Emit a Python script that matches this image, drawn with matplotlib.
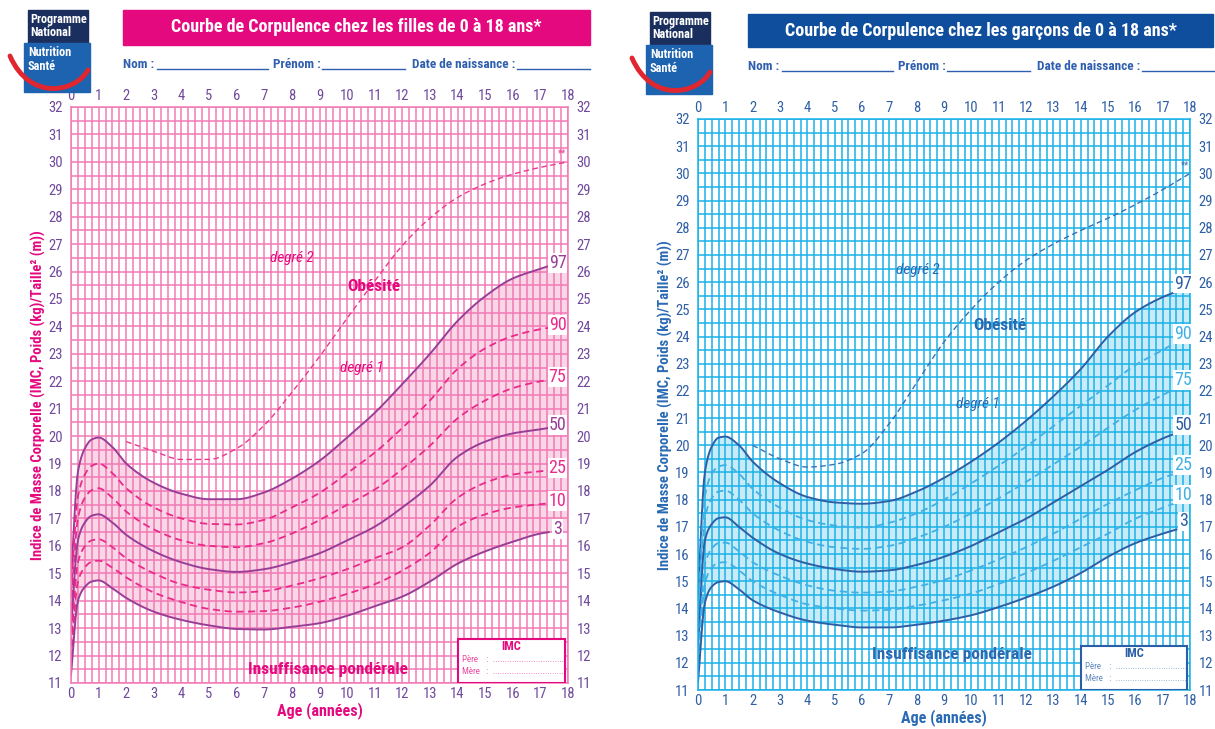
import numpy as np
import matplotlib
matplotlib.use("Agg")
import matplotlib.pyplot as plt
from matplotlib.patches import Rectangle, PathPatch
from matplotlib.path import Path
from matplotlib import font_manager as fm

# ---------------- data ----------------
pct_labels = ["97", "90", "75", "50", "25", "10", "3"]

girls_age = [0, 0.25, 0.5, 0.75, 1, 1.5, 2, 3, 4, 5, 6, 7, 8, 9, 10, 11, 12, 13, 14, 15, 16, 17, 17.3]
girls_p97 = [14.8, 18.7, 19.55, 19.88, 19.95, 19.6, 19.0, 18.3, 17.9, 17.7, 17.7, 17.95, 18.45, 19.1, 19.95, 20.85, 21.9, 23.0, 24.2, 25.1, 25.75, 26.1, 26.2]
girls_p90 = [14.3, 17.8, 18.6, 18.92, 19.0, 18.65, 18.1, 17.4, 17.0, 16.8, 16.78, 16.95, 17.4, 17.93, 18.65, 19.4, 20.3, 21.3, 22.45, 23.2, 23.65, 23.9, 23.95]
girls_p75 = [13.7, 17.0, 17.75, 18.03, 18.1, 17.75, 17.25, 16.6, 16.2, 16.0, 15.95, 16.1, 16.45, 16.94, 17.5, 18.05, 18.8, 19.65, 20.65, 21.3, 21.75, 22.0, 22.05]
girls_p50 = [13.0, 16.2, 16.85, 17.1, 17.15, 16.85, 16.4, 15.8, 15.4, 15.15, 15.05, 15.15, 15.4, 15.73, 16.2, 16.7, 17.4, 18.2, 19.25, 19.8, 20.1, 20.25, 20.3]
girls_p25 = [12.4, 15.4, 15.98, 16.2, 16.24, 15.95, 15.55, 15.0, 14.6, 14.4, 14.3, 14.35, 14.55, 14.82, 15.15, 15.55, 15.95, 16.75, 17.75, 18.3, 18.6, 18.72, 18.75]
girls_p10 = [11.9, 14.7, 15.22, 15.42, 15.46, 15.2, 14.85, 14.3, 13.95, 13.7, 13.6, 13.62, 13.75, 13.96, 14.25, 14.6, 15.1, 15.75, 16.7, 17.15, 17.4, 17.52, 17.55]
girls_p3 = [11.3, 14.0, 14.5, 14.7, 14.74, 14.45, 14.1, 13.6, 13.3, 13.1, 12.97, 12.95, 13.05, 13.18, 13.45, 13.8, 14.15, 14.7, 15.35, 15.8, 16.15, 16.45, 16.5]

boys_age = [0, 0.25, 0.5, 0.75, 1, 1.5, 2, 3, 4, 5, 6, 7, 8, 9, 10, 11, 12, 13, 14, 15, 16, 17, 17.5]
boys_p97 = [14.5, 19.0, 19.95, 20.28, 20.32, 20.0, 19.4, 18.6, 18.1, 17.9, 17.85, 17.95, 18.3, 18.8, 19.4, 20.1, 20.9, 21.8, 22.8, 24.0, 24.9, 25.45, 25.65]
boys_p90 = [13.8, 18.1, 18.95, 19.22, 19.27, 18.95, 18.4, 17.7, 17.25, 17.05, 16.97, 17.15, 17.5, 18.0, 18.6, 19.25, 19.95, 20.7, 21.45, 22.2, 22.95, 23.5, 23.8]
boys_p75 = [13.2, 17.3, 18.05, 18.3, 18.33, 18.0, 17.5, 16.85, 16.45, 16.25, 16.19, 16.3, 16.6, 17.0, 17.5, 18.05, 18.65, 19.3, 19.95, 20.65, 21.3, 21.85, 22.1]
boys_p50 = [12.6, 16.5, 17.1, 17.32, 17.35, 17.0, 16.6, 16.0, 15.65, 15.45, 15.35, 15.4, 15.6, 15.9, 16.3, 16.8, 17.3, 17.9, 18.5, 19.1, 19.75, 20.25, 20.45]
boys_p25 = [12.0, 15.6, 16.2, 16.4, 16.42, 16.1, 15.7, 15.2, 14.85, 14.65, 14.58, 14.62, 14.8, 15.05, 15.4, 15.8, 16.25, 16.75, 17.3, 17.85, 18.35, 18.8, 18.97]
boys_p10 = [11.6, 14.9, 15.5, 15.68, 15.7, 15.4, 15.0, 14.5, 14.15, 14.0, 13.92, 13.95, 14.1, 14.3, 14.55, 14.9, 15.3, 15.75, 16.25, 16.75, 17.3, 17.7, 17.89]
boys_p3 = [11.3, 14.2, 14.8, 14.97, 15.0, 14.7, 14.3, 13.85, 13.55, 13.4, 13.3, 13.3, 13.4, 13.55, 13.75, 14.05, 14.4, 14.8, 15.3, 15.9, 16.4, 16.75, 16.9]

deg2_age = [2, 3, 4, 5, 6, 7, 8, 9, 10, 11, 12, 13, 14, 15, 16, 17, 18]
girls_deg2 = [19.8, 19.45, 19.15, 19.15, 19.55, 20.4, 21.6, 22.9, 24.3, 25.65, 26.95, 27.95, 28.7, 29.2, 29.55, 29.8, 30.0]
boys_deg2 = [20.0, 19.5, 19.2, 19.3, 19.7, 20.8, 22.3, 23.8, 25.0, 26.0, 26.8, 27.4, 27.9, 28.35, 28.85, 29.4, 30.0]

x_ticks = list(range(0, 19))
y_ticks = list(range(11, 33))

# pick a condensed sans-serif if one is installed
_avail = {f.name for f in fm.fontManager.ttflist}
_pref = ["Roboto Condensed", "Liberation Sans Narrow", "Fira Sans Condensed", "Asap Condensed",
         "PT Sans Narrow", "Archivo Narrow", "IBM Plex Sans Condensed", "Encode Sans Condensed",
         "Roboto", "DejaVu Sans"]
COND = next((n for n in _pref if n in _avail), "DejaVu Sans")
plt.rcParams["font.family"] = [COND, "DejaVu Sans"]

W, H = 1215, 729
fig = plt.figure(figsize=(W / 100, H / 100), dpi=100)


def fx(x):
    return x / W


def fy(y):
    return 1 - y / H


def pchip(x, y, xs):
    x = np.asarray(x, float)
    y = np.asarray(y, float)
    h = np.diff(x)
    d = np.diff(y) / h
    n = len(x)
    m = np.zeros(n)
    m[0], m[-1] = d[0], d[-1]
    for k in range(1, n - 1):
        if d[k - 1] * d[k] <= 0:
            m[k] = 0
        else:
            w1 = 2 * h[k] + h[k - 1]
            w2 = h[k] + 2 * h[k - 1]
            m[k] = (w1 + w2) / (w1 / d[k - 1] + w2 / d[k])
    idx = np.clip(np.searchsorted(x, xs) - 1, 0, n - 2)
    t = (xs - x[idx]) / h[idx]
    h00 = 2 * t**3 - 3 * t**2 + 1
    h10 = t**3 - 2 * t**2 + t
    h01 = -2 * t**3 + 3 * t**2
    h11 = t**3 - t**2
    return h00 * y[idx] + h10 * h[idx] * m[idx] + h01 * y[idx + 1] + h11 * h[idx] * m[idx + 1]


def smooth(x, y):
    xs = np.linspace(x[0], x[-1], 400)
    return xs, pchip(x, y, xs)


def draw_logo(x0, y0):
    fig.patches.append(Rectangle((fx(x0 + 4), fy(y0 + 33)), 60 / W, 33 / H, transform=fig.transFigure,
                                 color="#1b2f5f", zorder=1))
    fig.patches.append(Rectangle((fx(x0), fy(y0 + 82)), 66 / W, 49 / H, transform=fig.transFigure,
                                 color="#1d63b0", zorder=1))
    for txt, dx, dy in [("Programme", 6, 10), ("National", 6, 22), ("Nutrition", 4, 43), ("Santé", 4, 56)]:
        fig.text(fx(x0 + dx), fy(y0 + dy), txt, color="white", fontsize=8.8, fontweight="bold",
                 va="center", ha="left", zorder=3)
    verts = [(fx(x0 - 14), fy(y0 + 46)), (fx(x0 + 6), fy(y0 + 92)), (fx(x0 + 52), fy(y0 + 82)),
             (fx(x0 + 64), fy(y0 + 60))]
    path = Path(verts, [Path.MOVETO, Path.CURVE4, Path.CURVE4, Path.CURVE4])
    fig.patches.append(PathPatch(path, transform=fig.transFigure, fill=False, edgecolor="#e0262e",
                                 lw=3.5, zorder=2, capstyle="round"))


def draw_header(box, title, box_color, y_nom, x_start, line_color):
    x1, y1, x2, y2 = box
    fig.patches.append(Rectangle((fx(x1), fy(y2)), (x2 - x1) / W, (y2 - y1) / H,
                                 transform=fig.transFigure, color=box_color, zorder=1))
    fig.text(fx((x1 + x2) / 2), fy((y1 + y2) / 2), title, color="white", fontsize=13,
             fontweight="bold", ha="center", va="center", zorder=3)
    parts = [("Nom :", 0, 34, 145), ("Prénom :", 150, 199, 282), ("Date de naissance :", 289, 394, 467)]
    for txt, tx, l1, l2 in parts:
        fig.text(fx(x_start + tx), fy(y_nom), txt, color=line_color, fontsize=9.5, fontweight="bold",
                 ha="left", va="center")
        fig.lines.append(plt.Line2D([fx(x_start + l1), fx(x_start + l2)], [fy(y_nom + 4), fy(y_nom + 4)],
                                    transform=fig.transFigure, color=line_color, lw=1.0))


def panel(rect, ages, curves, deg2, grid_c, fill_c, dark_c, light_c, tick_c, text_c,
          deg_c, imc_c, lab_dy, lab_x, notes):
    ax = fig.add_axes(rect)
    ax.set_xlim(0, 18)
    ax.set_ylim(11, 32)
    ax.set_xticks(x_ticks)
    ax.set_yticks(y_ticks)
    ax.set_xticks(np.arange(0, 18.01, 0.25), minor=True)
    ax.set_yticks(np.arange(11, 32.01, 0.5), minor=True)
    ax.set_axisbelow(True)
    ax.grid(which="both", color=grid_c, lw=1.1)
    ax.tick_params(which="both", length=0, top=False, right=False)
    ax.tick_params(axis="x", labeltop=True, labelbottom=True, labelsize=10.5, labelcolor=tick_c, pad=3)
    ax.tick_params(axis="y", labelleft=True, labelright=True, labelsize=10.5, labelcolor=tick_c, pad=6)
    for s in ax.spines.values():
        s.set_color(grid_c)
        s.set_linewidth(1.1)

    xs_hi, y_hi = smooth(ages, curves[0])
    xs_lo, y_lo = smooth(ages, curves[-1])
    xf = np.append(xs_hi, 18)
    ax.fill_between(xf, np.append(y_lo, y_lo[-1]), np.append(y_hi, y_hi[-1]), color=fill_c,
                    lw=0, zorder=0.3)

    for i, c in enumerate(curves):
        xs, ys = smooth(ages, c)
        solid = pct_labels[i] in ("97", "50", "3")
        ax.plot(xs, ys, color=dark_c if solid else light_c, lw=1.4 if solid else 1.3,
                ls="-" if solid else (0, (4, 2.5)), zorder=2)
        ax.text(lab_x, c[-1] + lab_dy, pct_labels[i], color=dark_c if solid else light_c,
                fontsize=13, ha="center", va="center", zorder=4,
                bbox=dict(facecolor="white", edgecolor="none", pad=0.6))

    xs, ys = smooth(deg2_age, deg2)
    ax.plot(xs, ys, color=deg_c, lw=1.0, ls=(0, (4, 2.5)), zorder=2)
    ax.text(17.8, deg2[-1] + 0.3, "**", color=deg_c, fontsize=7, ha="center", va="center")

    for txt, x, y, style in notes:
        if style == "italic":
            ax.text(x, y, txt, color=text_c, fontsize=11, fontstyle="italic", ha="center", va="center",
                    zorder=4)
        else:
            ax.text(x, y, txt, color=text_c, fontsize=12.5, fontweight="bold", ha="center", va="center",
                    zorder=4)

    ax.add_patch(Rectangle((14.0, 11.0), 3.9, 1.6, facecolor="white", edgecolor=imc_c, lw=1.5, zorder=5))
    ax.text(15.95, 12.33, "IMC", color=imc_c, fontsize=9, fontweight="bold", ha="center", va="center",
            zorder=6)
    ax.text(14.15, 11.85, "Père    :  ..............................", color=imc_c, fontsize=6.5,
            ha="left", va="center", zorder=6, alpha=0.75)
    ax.text(14.15, 11.42, "Mère   :  ..............................", color=imc_c, fontsize=6.5,
            ha="left", va="center", zorder=6, alpha=0.75)
    ax.set_xlabel("Age (années)", color=text_c, fontsize=11.5, fontweight="bold", labelpad=1)
    return ax


# ---------------- girls ----------------
G_PINK = "#e5097f"
draw_header((123, 10, 590, 45), "Courbe de Corpulence chez les filles de 0 à 18 ans*", G_PINK, 65, 123,
            "#2f5fae")
draw_logo(24, 10)
girls_curves = [girls_p97, girls_p90, girls_p75, girls_p50, girls_p25, girls_p10, girls_p3]
panel([71 / W, 1 - 683 / H, (568 - 71) / W, (683 - 107) / H], girls_age, girls_curves, girls_deg2,
      grid_c="#f27ab5", fill_c="#fad7e6", dark_c="#9a3d97", light_c="#ea2a8a", tick_c="#70499c",
      text_c=G_PINK, deg_c="#ea3a90", imc_c=G_PINK, lab_dy=0.1, lab_x=17.62,
      notes=[("degré 2", 8.0, 26.5, "italic"), ("Obésité", 10.95, 25.45, "bold"),
             ("degré 1", 10.55, 22.5, "italic"), ("Insuffisance pondérale", 9.3, 11.5, "bold")])
fig.text(fx(38), fy(395), "Indice de Masse Corporelle (IMC, Poids (kg)/Taille² (m))", rotation=90,
         color=G_PINK, fontsize=10.5, fontweight="bold", ha="center", va="center")

# ---------------- boys ----------------
B_BLUE = "#0f4e9c"
draw_header((748, 14, 1213, 47), "Courbe de Corpulence chez les garçons de 0 à 18 ans*", B_BLUE, 67, 748,
            "#2f5fae")
draw_logo(646, 12)
boys_curves = [boys_p97, boys_p90, boys_p75, boys_p50, boys_p25, boys_p10, boys_p3]
panel([698 / W, 1 - 690 / H, (1190 - 698) / W, (690 - 119) / H], boys_age, boys_curves, boys_deg2,
      grid_c="#1ab2e8", fill_c="#c9ebf8", dark_c="#2c5fa6", light_c="#3fb0e6", tick_c="#2f5fa5",
      text_c="#2a6ab3", deg_c="#3a6fb5", imc_c="#2a5fa8", lab_dy=0.3, lab_x=17.75,
      notes=[("degré 2", 8.05, 26.45, "italic"), ("Obésité", 11.05, 24.42, "bold"),
             ("degré 1", 10.25, 21.52, "italic"), ("Insuffisance pondérale", 9.3, 12.3, "bold")])
fig.text(fx(665), fy(405), "Indice de Masse Corporelle (IMC, Poids (kg)/Taille² (m))", rotation=90,
         color="#2a6ab3", fontsize=10.5, fontweight="bold", ha="center", va="center")

fig.savefig("out.png", dpi=100, facecolor="white")
